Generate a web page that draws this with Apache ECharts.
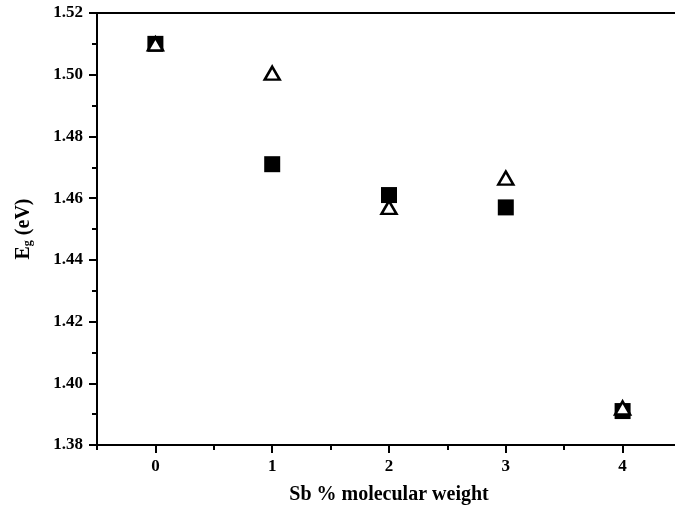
<!DOCTYPE html>
<html>
<head>
<meta charset="utf-8">
<script src="https://cdn.jsdelivr.net/npm/echarts@6/dist/echarts.min.js"></script>
<style>
  html, body { margin: 0; padding: 0; background: #fff; }
  #chart { width: 675px; height: 515px; }
</style>
</head>
<body>
<div id="chart"></div>
<script>
// Band gap vs Sb content
const sbContent = [0, 1, 2, 3, 4];
const egSquare = [1.510, 1.471, 1.461, 1.457, 1.391];
const egTriangle = [1.510, 1.5005, 1.457, 1.4665, 1.392];
const xTickValues = [0, 1, 2, 3, 4];

const FONT = '"Liberation Serif", "Times New Roman", serif';
const axisLineStyle = { color: '#000', width: 2 };

const chart = echarts.init(document.getElementById('chart'), null, { renderer: 'canvas' });

chart.setOption({
  backgroundColor: '#fff',
  animation: false,
  grid: { left: 97, top: 13, width: 584, height: 432, containLabel: false, outerBoundsMode: 'none' },
  xAxis: [
    {
      type: 'value', position: 'bottom', min: -0.5, max: 4.5, interval: 0.5,
      axisLine: { show: true, onZero: false, lineStyle: axisLineStyle },
      axisTick: { show: true, length: 5, lineStyle: { color: '#000', width: 2 } },
      axisLabel: {
        customValues: xTickValues,
        margin: 13, color: '#000', fontFamily: FONT, fontWeight: 'bold', fontSize: 17,
        formatter: v => String(v)
      },
      splitLine: { show: false },
      name: 'Sb % molecular weight', nameLocation: 'middle', nameGap: 40,
      nameTextStyle: { color: '#000', fontFamily: FONT, fontWeight: 'bold', fontSize: 20 }
    },
    {
      type: 'value', position: 'bottom', min: -0.5, max: 4.5, interval: 0.5,
      axisLine: { show: false, onZero: false },
      axisTick: { show: true, customValues: xTickValues, length: 8, lineStyle: { color: '#000', width: 2 } },
      axisLabel: { show: false },
      splitLine: { show: false }
    },
    {
      type: 'value', position: 'top', min: -0.5, max: 4.5, interval: 0.5,
      axisLine: { show: true, onZero: false, lineStyle: axisLineStyle },
      axisTick: { show: false },
      axisLabel: { show: false },
      splitLine: { show: false }
    }
  ],
  yAxis: {
    type: 'value', min: 1.38, max: 1.52, interval: 0.02,
    axisLine: { show: true, onZero: false, lineStyle: axisLineStyle },
    axisTick: { show: true, length: 8, lineStyle: { color: '#000', width: 2 } },
    minorTick: { show: true, splitNumber: 2, length: 5, lineStyle: { color: '#000', width: 2 } },
    axisLabel: {
      margin: 14, color: '#000', fontFamily: FONT, fontWeight: 'bold', fontSize: 17,
      formatter: v => v.toFixed(2)
    },
    splitLine: { show: false },
    minorSplitLine: { show: false },
    name: 'E{sub|g} (eV)', nameLocation: 'middle', nameGap: 63,
    nameTextStyle: {
      color: '#000', fontFamily: FONT, fontWeight: 'bold', fontSize: 20,
      rich: {
        sub: { fontFamily: FONT, fontWeight: 'bold', fontSize: 12, color: '#000', verticalAlign: 'bottom', padding: [8, 0, 0, 0] }
      }
    }
  },
  series: [
    {
      name: 'filled', type: 'scatter', xAxisIndex: 0,
      data: sbContent.map((x, i) => [x, egSquare[i]]),
      symbol: 'rect', symbolSize: 16,
      itemStyle: { color: '#000', opacity: 1 },
      z: 2
    },
    {
      name: 'open', type: 'scatter', xAxisIndex: 0,
      data: sbContent.map((x, i) => [x, egTriangle[i]]),
      symbol: 'triangle', symbolSize: [15, 13],
      itemStyle: { color: '#fff', borderColor: '#000', borderWidth: 2.5, opacity: 1 },
      z: 3
    }
  ]
});
</script>
</body>
</html>
